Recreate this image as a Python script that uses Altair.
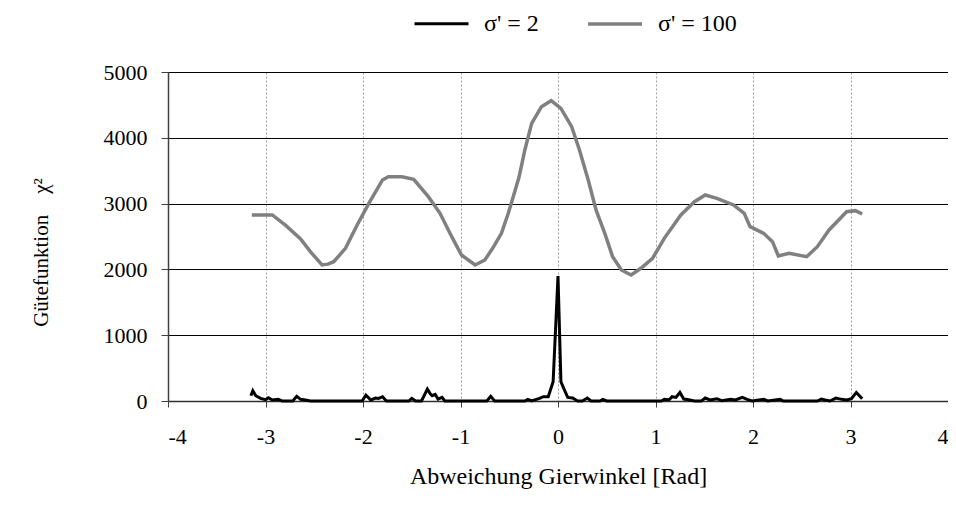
import altair as alt
import pandas as pd

# sigma' = 100 (gray)
gray_x = [-3.14, -2.93, -2.79, -2.64, -2.54, -2.42, -2.36, -2.30, -2.18, -2.06, -1.94, -1.80,
          -1.74, -1.60, -1.48, -1.33, -1.21, -1.09, -0.99, -0.85, -0.75, -0.66, -0.58, -0.51,
          -0.45, -0.40, -0.34, -0.27, -0.17, -0.07, 0.03, 0.14, 0.22, 0.31, 0.39, 0.48, 0.56,
          0.65, 0.75, 0.85, 0.97, 1.09, 1.26, 1.40, 1.51, 1.63, 1.80, 1.91, 1.97, 2.11, 2.20,
          2.26, 2.37, 2.55, 2.66, 2.78, 2.96, 3.05, 3.12]
gray_y = [2827, 2827, 2665, 2462, 2270, 2067, 2080, 2117, 2320, 2675, 3004, 3359,
          3409, 3409, 3369, 3105, 2852, 2497, 2219, 2067, 2143, 2345, 2548, 2852,
          3150, 3400, 3815, 4220, 4473, 4564, 4448, 4169, 3815, 3359, 2903, 2548, 2193,
          1991, 1915, 2017, 2168, 2472, 2827, 3029, 3131, 3080, 2979, 2852, 2649, 2548, 2421,
          2204, 2245, 2193, 2345, 2599, 2877, 2893, 2842]

# sigma' = 2 (black)
black_x = [-3.15, -3.13, -3.10, -3.05, -3.00, -2.97, -2.93, -2.87, -2.83, -2.72, -2.68, -2.64,
           -2.59, -2.54, -2.01, -1.97, -1.92, -1.87, -1.84, -1.80, -1.76, -1.53, -1.50, -1.46,
           -1.40, -1.34, -1.31, -1.29, -1.26, -1.23, -1.19, -1.16, -0.73, -0.69, -0.65, -0.34,
           -0.31, -0.27, -0.19, -0.15, -0.10, -0.05, 0.00, 0.03, 0.07, 0.10, 0.15, 0.20, 0.25,
           0.30, 0.34, 0.43, 0.46, 0.50, 1.06, 1.09, 1.14, 1.17, 1.21, 1.25, 1.29, 1.34, 1.40,
           1.47, 1.51, 1.56, 1.63, 1.68, 1.77, 1.82, 1.89, 1.94, 1.99, 2.11, 2.15, 2.28, 2.31,
           2.66, 2.70, 2.74, 2.79, 2.85, 2.91, 2.96, 3.01, 3.06, 3.12]
black_y = [80, 157, 80, 40, 20, 50, 15, 25, 0, 0, 70, 25,
           15, 0, 0, 90, 15, 45, 40, 65, 0, 0, 40, 0,
           0, 180, 110, 80, 100, 30, 55, 0, 0, 70, 0, 0,
           25, 0, 40, 65, 65, 293, 1900, 293, 155, 55, 45, 0, 0,
           45, 0, 0, 25, 0, 0, 25, 20, 65, 55, 130, 30, 20, 0,
           0, 45, 15, 35, 5, 25, 15, 55, 25, 0, 25, 0, 25, 0,
           0, 30, 15, 0, 45, 25, 15, 35, 130, 35]

series_names = ["σ' = 2", "σ' = 100"]
series_colors = ["#000000", "#808080"]
series_widths = [3, 3.5]

df = pd.concat([
    pd.DataFrame({"x": black_x, "y": black_y, "s": series_names[0]}),
    pd.DataFrame({"x": gray_x, "y": gray_y, "s": series_names[1]}),
])

FONT = "Liberation Serif"

chart = alt.Chart(df).mark_line().encode(
    x=alt.X("x:Q",
            scale=alt.Scale(domain=[-4, 4], nice=False, zero=False),
            axis=alt.Axis(values=[-4, -3, -2, -1, 0, 1, 2, 3, 4],
                          labelExpr="'' + datum.value",
                          title="Abweichung Gierwinkel [Rad]",
                          grid=True, gridColor="#a0a0a0", gridDash=[2, 2], gridWidth=1,
                          domainColor="#303030", domainWidth=1.5,
                          tickColor="#404040", tickSize=6,
                          labelFont=FONT, labelFontSize=22, labelColor="#000000",
                          labelPadding=19,
                          titleFont=FONT, titleFontSize=24, titleFontWeight="normal",
                          titleColor="#000000", titleY=82, titleBaseline="alphabetic")),
    y=alt.Y("y:Q",
            scale=alt.Scale(domain=[0, 5000], nice=False),
            axis=alt.Axis(values=[0, 1000, 2000, 3000, 4000, 5000],
                          format="d",
                          title="Gütefunktion\u2003χ²",
                          grid=True, gridColor="#000000", gridWidth=1,
                          domainColor="#404040", domainWidth=1.5,
                          tickColor="#404040", tickSize=7,
                          labelFont=FONT, labelFontSize=22, labelColor="#000000",
                          labelPadding=14,
                          titleFont=FONT, titleFontSize=21, titleFontWeight="normal",
                          titleColor="#000000", titleX=-121, titleY=180,
                          titleBaseline="alphabetic")),
    color=alt.Color("s:N",
                    scale=alt.Scale(domain=series_names, range=series_colors),
                    legend=alt.Legend(title=None, orient="none", direction="horizontal",
                                      legendX=245, legendY=-77,
                                      symbolType="stroke", symbolSize=2916,
                                      symbolStrokeWidth=6,
                                      labelFont=FONT, labelFontSize=24,
                                      labelColor="#000000", labelOffset=14,
                                      columnPadding=42, padding=0)),
    strokeWidth=alt.StrokeWidth("s:N",
                                scale=alt.Scale(domain=series_names, range=series_widths),
                                legend=None),
).properties(
    width=780,
    height=329,
    autosize=alt.AutoSizeParams(type="none"),
    padding={"left": 160, "top": 64, "right": 0, "bottom": 92},
).configure_view(
    stroke="#808080", strokeWidth=1.5
).configure(background="white")

chart.save("out.html", embed_options={"renderer": "svg", "actions": False})
